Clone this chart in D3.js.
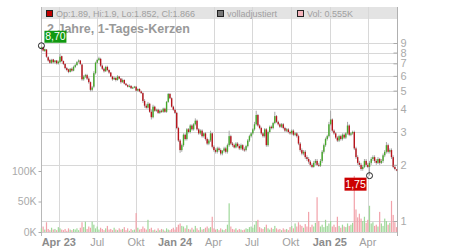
<!DOCTYPE html>
<html><head><meta charset="utf-8">
<script src="https://cdn.jsdelivr.net/npm/d3@7"></script>
<style>
html,body{margin:0;padding:0;background:#fff;}
svg{display:block;font-family:"Liberation Sans",Arial,sans-serif;}
</style></head>
<body>
<svg id="c" width="450" height="250"></svg>
<script>
// ---------- data ----------
const candleStart = "2023-02-19";   // first candle
const candleStepDays = 4;           // each candle covers ~4 calendar days
const open = [
8.40,8.55,8.15,8.30,7.55,7.30,7.05,7.35,7.10,7.25,
7.00,7.10,7.65,7.20,6.95,6.60,6.50,6.30,6.55,6.40,
6.70,6.85,7.15,7.25,6.90,5.75,5.95,6.05,5.80,5.55,
5.05,5.25,6.20,7.05,7.30,7.40,6.80,6.55,6.35,6.70,
6.45,6.25,5.95,5.75,5.85,5.70,5.95,5.80,5.55,5.70,
5.45,5.35,5.25,5.30,5.15,5.20,5.25,5.00,5.10,4.95,
4.85,4.40,4.15,4.05,4.25,3.85,3.60,4.10,3.90,3.95,
3.80,3.90,3.85,4.00,3.85,4.35,4.80,4.55,4.10,3.95,
3.80,3.15,2.70,2.40,2.55,2.90,2.75,3.10,3.00,3.25,
3.10,3.30,3.45,3.10,2.95,3.05,2.85,2.95,2.75,2.60,
2.70,2.95,2.50,2.40,2.35,2.45,2.40,2.30,2.38,2.45,
2.35,2.55,2.85,2.60,2.55,2.48,2.60,2.52,2.45,2.55,
2.42,2.40,2.52,2.70,2.85,2.95,3.10,3.30,3.70,3.25,
3.15,2.95,2.85,3.10,2.55,3.00,3.20,3.15,3.35,3.65,
3.40,3.30,3.20,3.30,3.15,3.05,3.10,3.00,2.95,3.05,
2.90,2.95,2.85,2.60,2.40,2.30,2.35,2.20,2.15,2.08,
2.00,1.95,2.05,2.10,2.00,1.98,2.10,2.35,2.55,2.75,
2.85,3.30,3.50,3.05,2.95,2.80,2.70,2.85,2.75,2.90,
2.80,2.95,3.25,2.90,2.95,3.00,2.45,2.20,2.05,2.00,
1.90,1.95,2.10,2.00,1.95,2.05,2.15,2.20,2.10,2.05,
2.15,2.05,2.10,2.25,2.35,2.55,2.35,2.40,2.20,1.95,1.89];
const high = [
8.70,8.60,8.40,8.35,7.65,7.40,7.40,7.40,7.30,7.30,
7.25,7.90,7.70,7.25,7.00,6.70,6.55,6.60,6.65,6.80,
6.95,7.20,7.35,7.30,6.95,6.05,6.15,6.15,5.90,5.60,
5.30,6.35,7.15,7.40,7.60,7.50,6.90,6.65,6.80,6.80,
6.50,6.30,6.00,5.95,5.90,6.05,6.00,5.85,5.80,5.75,
5.50,5.40,5.40,5.35,5.25,5.30,5.30,5.15,5.15,5.00,
4.90,4.50,4.25,4.35,4.30,3.95,4.20,4.15,4.00,4.00,
3.95,3.95,4.05,4.05,4.40,4.85,4.85,4.60,4.15,4.00,
3.85,3.20,2.75,2.60,2.95,2.95,3.15,3.15,3.30,3.30,
3.35,3.55,3.50,3.15,3.10,3.10,2.98,3.00,2.80,2.75,
3.05,2.98,2.55,2.45,2.50,2.50,2.45,2.40,2.50,2.50,
2.60,3.05,2.90,2.65,2.60,2.65,2.65,2.58,2.60,2.58,
2.48,2.56,2.75,2.90,3.00,3.15,3.40,3.90,3.75,3.30,
3.20,3.00,3.15,3.15,3.05,3.25,3.25,3.40,3.85,3.70,
3.45,3.35,3.35,3.35,3.20,3.15,3.15,3.05,3.10,3.10,
3.00,3.00,2.90,2.65,2.45,2.40,2.40,2.25,2.20,2.12,
2.04,2.10,2.15,2.15,2.05,2.15,2.40,2.60,2.80,2.90,
3.40,3.90,3.55,3.10,3.00,2.85,2.90,2.90,2.95,2.95,
3.00,3.40,3.30,3.00,3.05,3.05,2.50,2.25,2.10,2.05,
2.00,2.15,2.15,2.05,2.10,2.20,2.25,2.25,2.15,2.20,
2.18,2.15,2.30,2.40,2.65,2.60,2.45,2.45,2.25,2.00,1.90];
const low = [
8.30,8.10,8.05,7.50,7.15,6.95,6.95,7.00,7.00,6.90,
6.90,7.05,7.10,6.85,6.50,6.35,6.20,6.25,6.30,6.35,
6.60,6.80,7.05,6.85,5.65,5.65,5.85,5.70,5.45,4.95,
4.95,5.15,6.10,6.95,7.20,6.70,6.45,6.25,6.30,6.35,
6.15,5.90,5.65,5.70,5.60,5.65,5.75,5.45,5.50,5.40,
5.30,5.20,5.20,5.10,5.10,5.15,4.95,4.95,4.90,4.80,
4.30,4.05,4.00,4.00,3.80,3.50,3.55,3.85,3.85,3.75,
3.75,3.80,3.80,3.80,3.80,4.30,4.50,4.05,3.90,3.75,
3.10,2.65,2.32,2.35,2.50,2.70,2.70,2.95,2.95,3.05,
3.05,3.25,3.05,2.90,2.90,2.80,2.80,2.70,2.55,2.55,
2.65,2.45,2.35,2.30,2.30,2.35,2.25,2.25,2.33,2.30,
2.30,2.50,2.55,2.50,2.45,2.45,2.48,2.40,2.40,2.38,
2.35,2.36,2.48,2.65,2.80,2.90,3.05,3.25,3.20,3.10,
2.90,2.80,2.80,2.50,2.50,2.95,3.10,3.10,3.30,3.35,
3.25,3.15,3.15,3.10,3.00,3.00,2.95,2.90,2.90,2.85,
2.85,2.80,2.55,2.35,2.25,2.25,2.15,2.10,2.03,1.96,
1.92,1.93,2.00,1.97,1.95,1.95,2.05,2.30,2.50,2.70,
2.80,3.25,3.00,2.90,2.75,2.65,2.65,2.70,2.70,2.75,
2.75,2.90,2.85,2.85,2.90,2.40,2.15,2.00,1.95,1.86,
1.86,1.92,1.95,1.92,1.75,2.00,2.10,2.05,2.00,2.02,
2.00,2.02,2.05,2.20,2.30,2.30,2.30,2.15,1.92,1.87,1.85];
const close = [
8.55,8.20,8.35,7.60,7.25,7.05,7.30,7.10,7.25,7.00,
7.15,7.60,7.20,6.95,6.60,6.45,6.30,6.55,6.40,6.70,
6.85,7.10,7.25,6.95,5.75,5.95,6.05,5.80,5.55,5.05,
5.20,6.20,7.05,7.30,7.45,6.80,6.55,6.35,6.70,6.45,
6.25,5.95,5.75,5.85,5.70,5.95,5.80,5.55,5.70,5.45,
5.35,5.25,5.30,5.15,5.20,5.25,5.00,5.10,4.95,4.85,
4.40,4.15,4.05,4.25,3.85,3.60,4.10,3.90,3.95,3.80,
3.90,3.85,4.00,3.85,4.35,4.80,4.55,4.10,3.95,3.80,
3.15,2.70,2.40,2.55,2.90,2.75,3.10,3.00,3.25,3.10,
3.30,3.45,3.10,2.95,3.05,2.85,2.95,2.75,2.60,2.70,
2.95,2.50,2.40,2.35,2.45,2.40,2.30,2.38,2.45,2.35,
2.55,2.85,2.60,2.55,2.48,2.60,2.52,2.45,2.55,2.42,
2.40,2.52,2.70,2.85,2.95,3.10,3.30,3.70,3.25,3.15,
2.95,2.85,3.10,2.55,3.00,3.20,3.15,3.35,3.65,3.40,
3.30,3.20,3.30,3.15,3.05,3.10,3.00,2.95,3.05,2.90,
2.95,2.85,2.60,2.40,2.30,2.35,2.20,2.15,2.08,2.00,
1.95,2.05,2.10,2.00,1.98,2.10,2.35,2.55,2.75,2.85,
3.30,3.50,3.05,2.95,2.80,2.70,2.85,2.75,2.90,2.80,
2.95,3.25,2.90,2.95,3.00,2.45,2.20,2.05,2.00,1.90,
1.95,2.10,2.00,1.95,2.05,2.15,2.20,2.10,2.05,2.15,
2.05,2.10,2.25,2.35,2.55,2.35,2.40,2.20,1.95,1.90,1.866];
const volumeK = [
6,9,4,16,5,3,7,4,5,3,
8,6,4,3,5,2,6,4,3,5,
4,6,3,7,16,8,17,5,9,7,
17,12,6,9,4,7,5,3,6,10,
4,5,3,7,4,3,6,4,5,8,
3,6,2,5,3,4,31,7,4,5,
9,6,4,20,5,7,3,4,2,6,
3,5,4,2,6,4,3,5,7,4,
8,12,14,10,9,6,11,5,4,7,
4,10,6,3,8,4,5,7,9,6,
8,25,6,4,5,3,6,4,3,5,
12,47,9,5,4,6,3,5,4,3,
4,6,5,8,9,7,12,18,20,8,
6,5,8,12,6,4,7,5,10,6,
4,5,3,6,4,5,3,8,10,6,
14,9,16,12,10,7,13,9,33,8,
12,9,15,57,18,9,12,8,20,10,
14,18,9,12,8,25,10,7,12,9,
8,14,10,12,15,92,37,24,30,22,
18,25,15,20,43,14,16,10,12,9,
33,14,10,22,18,12,15,51,28,16,8];

const priceTicks = [1,2,3,4,5,6,7,8,9];
const volumeTicks = [0,50,100];
const monthTickDates = ["2023-04-01","2023-07-01","2023-10-01","2024-01-01","2024-04-01","2024-07-01","2024-10-01","2025-01-01","2025-04-01"];
const monthTickLabels = ["Apr 23","Jul","Okt","Jan 24","Apr","Jul","Okt","Jan 25","Apr"];
const monthTickBold = [true,false,false,true,false,false,false,true,false];
const titleText = "2 Jahre, 1-Tages-Kerzen";
const legendTexts = ["Op:1.89, Hi:1.9, Lo:1.852, Cl:1.866","volladjustiert","Vol: 0.555K"];
const xDomain = ["2023-02-18","2025-06-09"];

// ---------- drawing ----------
const svg = d3.select("#c");
const L = 41, R = 397, TOP = 7, BOT = 232;
const parse = d3.utcParse("%Y-%m-%d");
const x = d3.scaleUtc().domain(xDomain.map(parse)).range([L, R]);
const y = d3.scaleLog().domain([1, 9]).range([221, 43]);
const yv = d3.scaleLinear().domain([0, 100]).range([BOT, 171]);

const start = parse(candleStart);
const candles = close.map((c, i) => ({
  date: d3.utcDay.offset(start, i * candleStepDays),
  o: open[i], h: high[i], l: low[i], c: c, v: volumeK[i]
}));
const step = x(d3.utcDay.offset(start, candleStepDays)) - x(start);

// header band
svg.append("rect").attr("x", L).attr("y", TOP).attr("width", R - L).attr("height", 12).attr("fill", "#e3e3e3");

// grid
const grid = svg.append("g").attr("shape-rendering", "crispEdges");
grid.selectAll("line.v").data(monthTickDates).join("line")
  .attr("x1", d => Math.round(x(parse(d))) + 0.5).attr("x2", d => Math.round(x(parse(d))) + 0.5)
  .attr("y1", TOP).attr("y2", BOT).attr("stroke", "#d8d8d8");
grid.selectAll("line.h").data(priceTicks).join("line")
  .attr("x1", L).attr("x2", R)
  .attr("y1", d => Math.round(y(d)) + 0.5).attr("y2", d => Math.round(y(d)) + 0.5)
  .attr("stroke", "#d8d8d8");
grid.append("line").attr("x1", L).attr("x2", R).attr("y1", BOT + 0.5).attr("y2", BOT + 0.5).attr("stroke", "#d0d0d0");
grid.append("line").attr("x1", L + 0.5).attr("x2", L + 0.5).attr("y1", TOP).attr("y2", BOT + 4).attr("stroke", "#b8b8b8");
grid.append("line").attr("x1", R + 0.5).attr("x2", R + 0.5).attr("y1", TOP).attr("y2", BOT + 4).attr("stroke", "#b0b0b0");

// volume
svg.append("g").selectAll("rect").data(candles).join("rect")
  .attr("x", d => x(d.date) - 0.6).attr("width", 1.2)
  .attr("y", d => yv(d.v)).attr("height", d => BOT - yv(d.v))
  .attr("fill", d => d.c >= d.o ? "#9fd89a" : "#f2a2aa");

// candles
const cg = svg.append("g");
cg.selectAll("line").data(candles).join("line")
  .attr("x1", d => x(d.date)).attr("x2", d => x(d.date))
  .attr("y1", d => y(d.h)).attr("y2", d => y(d.l))
  .attr("stroke", "#a8a8a8").attr("stroke-width", 1);
cg.selectAll("rect").data(candles).join("rect")
  .attr("x", d => x(d.date) - 0.7).attr("width", 1.4)
  .attr("y", d => y(Math.max(d.o, d.c)))
  .attr("height", d => Math.max(1, Math.abs(y(d.o) - y(d.c))))
  .attr("fill", d => d.c >= d.o ? "#45a82a" : "#b8141c");

// right price axis
const ax = svg.append("g").attr("transform", `translate(${R + 0.5},0)`)
  .call(d3.axisRight(y).tickValues(priceTicks).tickFormat(d3.format("d")).tickSizeInner(-4).tickSizeOuter(0).tickPadding(3));
ax.select(".domain").remove();
ax.selectAll("line").attr("stroke", "#aaa");
ax.selectAll("text").attr("fill", "#aaa").attr("font-size", 11).attr("font-family", "Liberation Sans, Arial");

// left volume axis
const av = svg.append("g").attr("transform", `translate(${L + 0.5},0)`)
  .call(d3.axisLeft(yv).tickValues(volumeTicks).tickFormat(d => d + "K").tickSizeInner(3).tickSizeOuter(0).tickPadding(2));
av.select(".domain").remove();
av.selectAll("line").attr("stroke", "#aaa");
av.selectAll("text").attr("fill", "#aaa").attr("font-size", 10.5).attr("font-family", "Liberation Sans, Arial");

// month labels
svg.append("g").selectAll("text").data(monthTickDates).join("text")
  .attr("x", d => x(parse(d))).attr("y", 246).attr("text-anchor", "middle")
  .attr("font-size", 11).attr("fill", (d, i) => monthTickBold[i] ? "#8c8c8c" : "#a0a0a0")
  .attr("font-weight", (d, i) => monthTickBold[i] ? "bold" : "normal")
  .text((d, i) => monthTickLabels[i]);

// header legend
const lg = svg.append("g").attr("font-size", 9).attr("fill", "#a0a0a0");
const sq = [[46, "#c00000"], [217, "#777"], [297, "#f4b4bc"]];
lg.selectAll("rect").data(sq).join("rect")
  .attr("x", d => d[0] + 0.5).attr("y", 10.5).attr("width", 6).attr("height", 6)
  .attr("fill", d => d[1]).attr("stroke", "#222").attr("stroke-width", 1);
lg.selectAll("text").data(legendTexts).join("text")
  .attr("x", (d, i) => [56, 227, 307][i]).attr("y", 16.5).text(d => d);

// title
svg.append("text").attr("x", 47).attr("y", 33).attr("font-size", 12.5).attr("font-weight", "bold")
  .attr("fill", "#999").text(titleText);

// extremes
const fmt = v => d3.format(".2f")(v).replace(".", ",");
const hiIdx = d3.maxIndex(candles, d => d.h), loIdx = d3.minIndex(candles, d => d.l);
const hi = candles[hiIdx], lo = candles[loIdx];
const hx = x(hi.date), hy = y(hi.h), lx = x(lo.date), ly = y(lo.l);
svg.append("rect").attr("x", hx + 3).attr("y", hy - 15).attr("width", 22).attr("height", 12).attr("fill", "#119911");
svg.append("text").attr("x", hx + 14).attr("y", hy - 5.5).attr("text-anchor", "middle").attr("font-size", 10.5).attr("fill", "#fff").text(fmt(hi.h));
svg.append("circle").attr("cx", hx).attr("cy", hy).attr("r", 3).attr("fill", "none").attr("stroke", "#222");
svg.append("rect").attr("x", lx - 25).attr("y", ly + 2).attr("width", 22).attr("height", 13).attr("fill", "#cc0000");
svg.append("text").attr("x", lx - 14).attr("y", ly + 12.5).attr("text-anchor", "middle").attr("font-size", 10.5).attr("fill", "#fff").text(fmt(lo.l));
svg.append("circle").attr("cx", lx).attr("cy", ly).attr("r", 3).attr("fill", "none").attr("stroke", "#222");
</script>
</body></html>
